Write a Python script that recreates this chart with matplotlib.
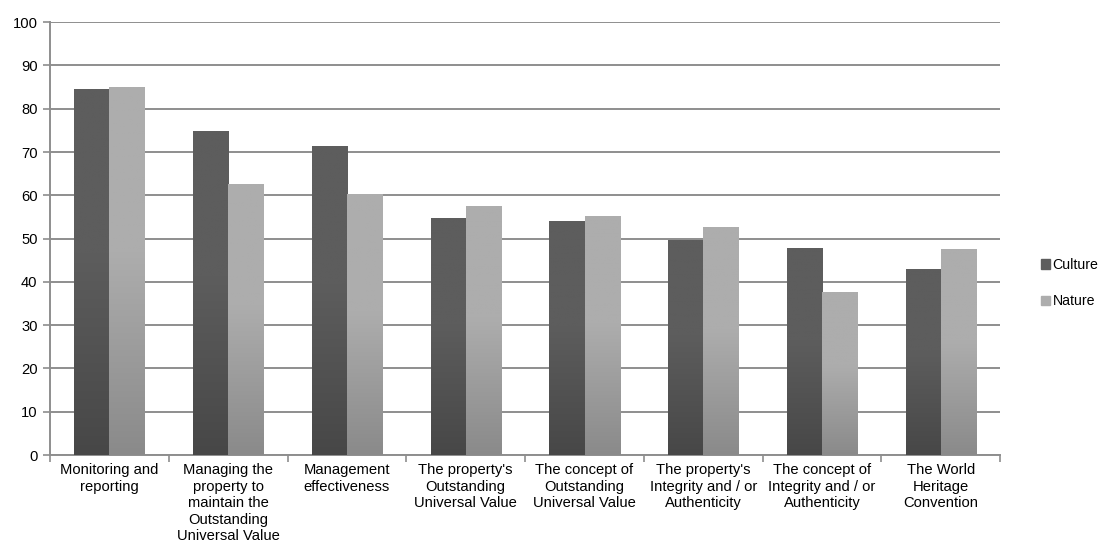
import numpy as np
import matplotlib
matplotlib.use("Agg")
from matplotlib import pyplot as plt
from matplotlib.colors import LinearSegmentedColormap

plt.rcParams['font.family'] = ['Liberation Sans', 'DejaVu Sans']

categories = [
    "Monitoring and\nreporting",
    "Managing the\nproperty to\nmaintain the\nOutstanding\nUniversal Value",
    "Management\neffectiveness",
    "The property's\nOutstanding\nUniversal Value",
    "The concept of\nOutstanding\nUniversal Value",
    "The property's\nIntegrity and / or\nAuthenticity",
    "The concept of\nIntegrity and / or\nAuthenticity",
    "The World\nHeritage\nConvention",
]
culture = [84.5, 74.8, 71.3, 54.7, 54.0, 49.7, 47.8, 43.0]
nature = [85.0, 62.6, 60.2, 57.5, 55.2, 52.6, 37.6, 47.6]

# (top colour, bottom colour) for each series
series_colors = {
    "Culture": ("#5d5d5d", "#474747"),
    "Nature": ("#adadad", "#8a8a8a"),
}


def gradient_fill(ax, bars, top, bottom):
    # solid upper part, then darker towards the base, like the excel bars
    cmap = LinearSegmentedColormap.from_list("g", [(0, bottom), (0.55, top), (1, top)])
    grad = np.linspace(0, 1, 256).reshape(-1, 1)
    for bar in bars:
        x0, y0 = bar.get_x(), bar.get_y()
        w, h = bar.get_width(), bar.get_height()
        bar.set_facecolor("none")
        bar.set_edgecolor("none")
        im = ax.imshow(grad, cmap=cmap, aspect="auto", origin="lower",
                       extent=(x0, x0 + w, y0, y0 + h), zorder=3)
        im.set_clip_path(bar)


fig = plt.figure(figsize=(11.04, 5.54), dpi=100)
ax = fig.add_axes([0.0453, 0.1787, 0.8607, 0.7813])

x = np.arange(len(categories))
width = 0.295
b1 = ax.bar(x - width / 2, culture, width, zorder=3, label="Culture", color=series_colors["Culture"][0])
b2 = ax.bar(x + width / 2, nature, width, zorder=3, label="Nature", color=series_colors["Nature"][0])
gradient_fill(ax, b1, *series_colors["Culture"])
gradient_fill(ax, b2, *series_colors["Nature"])

ax.set_xlim(-0.5, len(categories) - 0.5)
ax.set_ylim(0, 100)
ax.set_yticks(range(0, 101, 10))
ax.yaxis.grid(True, color="#8e8e8e", linewidth=1.4, zorder=0)
ax.set_axisbelow(True)

ax.set_xticks(x)
ax.set_xticklabels(categories, fontsize=10.6, linespacing=1.22)
ax.set_xticks(np.arange(-0.5, len(categories) + 0.5, 1), minor=True)
ax.tick_params(axis="x", which="major", length=0, pad=6)
ax.tick_params(axis="x", which="minor", length=5, color="#8e8e8e", width=1.2)
ax.tick_params(axis="y", length=5, color="#8e8e8e", width=1.2, labelsize=10.6, pad=4)

for side in ["top", "right"]:
    ax.spines[side].set_visible(False)
for side in ["left", "bottom"]:
    ax.spines[side].set_color("#8e8e8e")
    ax.spines[side].set_linewidth(1.4)

handles = [plt.Rectangle((0, 0), 1, 1, color=series_colors[k][0]) for k in ["Culture", "Nature"]]
fig.legend(handles, ["Culture", "Nature"], loc="center left", bbox_to_anchor=(0.943, 0.489),
           frameon=False, fontsize=10.2, handlelength=0.65, handleheight=0.65,
           handletextpad=0.15, labelspacing=1.6, borderpad=0, borderaxespad=0)

fig.savefig("out.png", dpi=100)
